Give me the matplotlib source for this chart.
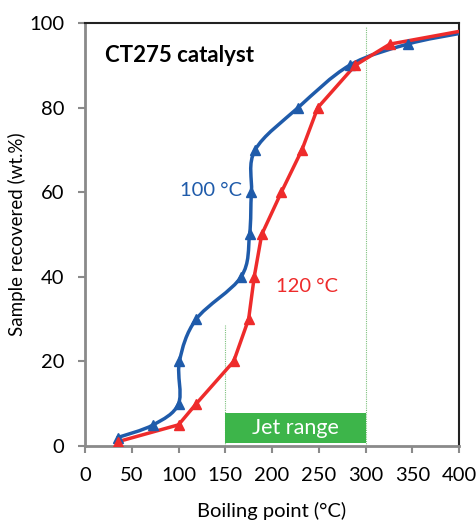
import matplotlib
matplotlib.use("Agg")
import matplotlib.pyplot as plt
from matplotlib.path import Path
from matplotlib.patches import PathPatch, Rectangle
import numpy as np

plt.rcParams['font.family'] = ['Lato', 'DejaVu Sans']

# Data
bp_100 = [35, 73, 100, 101, 119, 167, 176, 178, 182, 228, 283, 345, 400]
rec_100 = [2, 5, 10, 20, 30, 40, 50, 60, 70, 80, 90, 95, 97.5]
bp_120 = [35, 100, 119, 159, 175, 181, 189, 210, 232, 249, 289, 326, 400]
rec_120 = [1, 5, 10, 20, 30, 40, 50, 60, 70, 80, 90, 95, 98]
x_ticks = [0, 50, 100, 150, 200, 250, 300, 350, 400]
y_ticks = [0, 20, 40, 60, 80, 100]
jet_range = (150, 300)

blue = '#1F5BAA'
red = '#EE2B2B'
green = '#3DB54A'
gray = '#8A8A8A'

fig = plt.figure(figsize=(4.76, 5.21), dpi=100)
ax = fig.add_axes([0.1786, 0.1440, 0.7857, 0.8119])
ax.set_xlim(0, 400)
ax.set_ylim(0, 100)


def smooth_path(xs, ys):
    pts = np.column_stack([xs, ys]).astype(float)
    n = len(pts)
    verts = [pts[0]]
    codes = [Path.MOVETO]
    for i in range(n - 1):
        p0 = pts[i - 1] if i > 0 else pts[i]
        p1 = pts[i]
        p2 = pts[i + 1]
        p3 = pts[i + 2] if i + 2 < n else pts[i + 1]
        c1 = p1 + (p2 - p0) / 6.0
        c2 = p2 - (p3 - p1) / 6.0
        verts += [c1, c2, p2]
        codes += [Path.CURVE4] * 3
    return Path(verts, codes)


# Blue smoothed line
ax.add_patch(PathPatch(smooth_path(bp_100, rec_100), facecolor='none',
                       edgecolor=blue, lw=2.5, zorder=3, capstyle='round'))
ax.plot(bp_100[:-1], rec_100[:-1], linestyle='none', marker='^', ms=7,
        color=blue, zorder=4)

# Red straight line
ax.plot(bp_120, rec_120, color=red, lw=2.5, zorder=3)
ax.plot(bp_120[:-1], rec_120[:-1], linestyle='none', marker='^', ms=7,
        color=red, zorder=4)

# Jet range markers
ax.plot([jet_range[1], jet_range[1]], [0, 99], color='#7DC07D', lw=0.8,
        linestyle=(0, (1, 1)), zorder=2)
ax.plot([jet_range[0], jet_range[0]], [0, 28.5], color='#7DC07D', lw=0.8,
        linestyle=(0, (1, 1)), zorder=2)
ax.add_patch(Rectangle((jet_range[0], 0.7), jet_range[1] - jet_range[0], 7.1,
                       facecolor=green, edgecolor='none', zorder=2))
ax.text(sum(jet_range) / 2, 4.3, 'Jet range', color='white', fontsize=15.5,
        ha='center', va='center', zorder=5)

# Annotations
ax.text(21.5, 92.4, 'CT275 catalyst', fontsize=16, fontweight='bold',
        ha='left', va='center')
ax.text(135, 60.5, '100 °C', color=blue, fontsize=14.5, ha='center', va='center')
ax.text(237, 37.6, '120 °C', color=red, fontsize=14.5, ha='center', va='center')

# Axes styling
ax.set_xticks(x_ticks)
ax.set_yticks(y_ticks)
ax.tick_params(axis='both', labelsize=14.5, colors=gray, length=5, width=1.5,
               direction='out', labelcolor='black')
ax.tick_params(axis='x', pad=10)
ax.tick_params(axis='y', pad=10)
for s in ['left', 'bottom']:
    ax.spines[s].set_color(gray)
    ax.spines[s].set_linewidth(2)
for s in ['top', 'right']:
    ax.spines[s].set_color('#222222')
    ax.spines[s].set_linewidth(1.5)

ax.set_xlabel('Boiling point (°C)', fontsize=14.5, labelpad=13)
ax.set_ylabel('Sample recovered (wt.%)', fontsize=13.5, labelpad=2)

fig.savefig('out.png', dpi=100)
